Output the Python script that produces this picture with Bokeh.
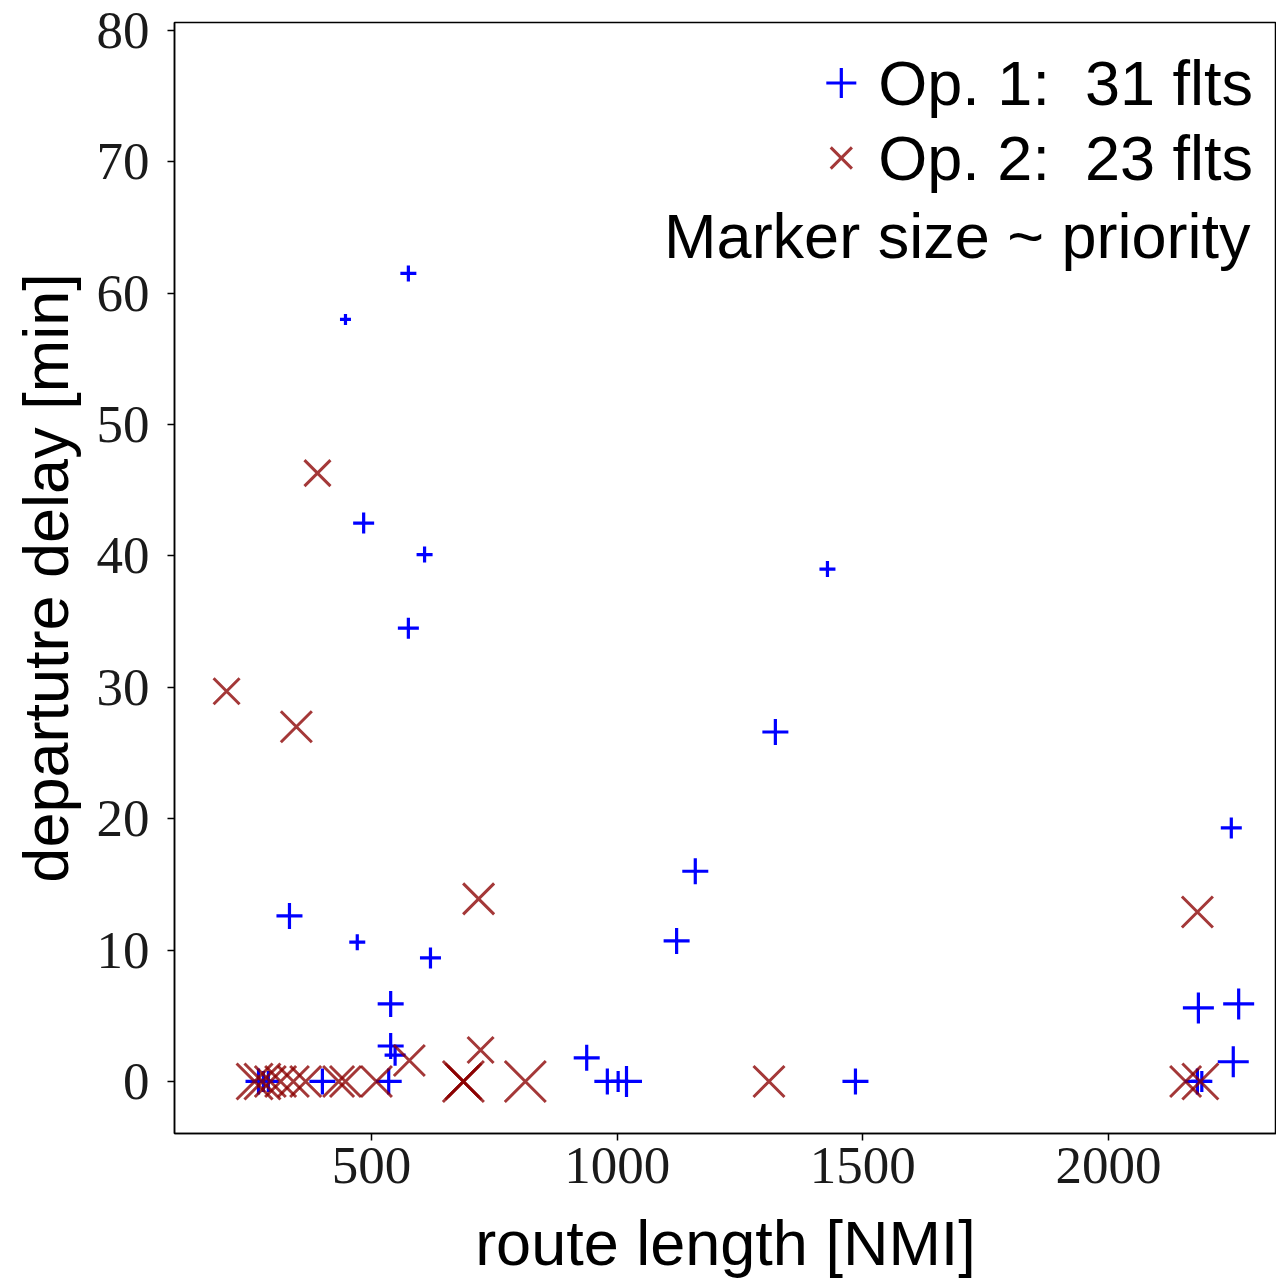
from bokeh.plotting import figure
from bokeh.models import (ColumnDataSource, FixedTicker, Legend, LegendItem, Label, Range1d)
from bokeh.embed import file_html
from bokeh.resources import INLINE

# ---- data ----
op1_route = [575, 447, 484, 608, 575, 1428, 1322, 2250, 1159, 333, 471, 620, 1121, 539,
             2183, 2265, 539, 548, 938, 2254, 1485, 980, 1002, 1019, 270, 400, 535, 2181,
             280, 290, 2190]
op1_delay = [61.5, 58.0, 42.5, 40.1, 34.5, 39.0, 26.6, 19.3, 16.0, 12.6, 10.6, 9.4, 10.7, 5.9,
             5.6, 5.9, 2.7, 2.0, 1.8, 1.5, 0, 0, 0, 0, 0, 0, 0, 0,
             0, 0, 0]
op1_priority = [2, 1, 3, 2, 3, 2, 4, 3, 4, 4, 2, 3, 4, 4,
                5, 5, 4, 3, 4, 5, 4, 4, 3, 5, 4, 4, 4, 4,
                3, 3, 3]

op2_route = [205, 390, 347, 718, 2181, 722, 577, 813, 687, 687, 687, 1309, 2157, 2187,
             262, 278, 294, 315, 341, 366, 433, 447, 510]
op2_delay = [29.7, 46.3, 27.0, 13.9, 12.9, 2.4, 1.6, 0, 0, 0, 0, 0, 0, 0,
             0, 0, 0, 0, 0, 0, 0, 0, 0]
op2_priority = [4, 4, 5, 5, 5, 4, 5, 7, 7, 6, 5, 5, 5, 6,
                6, 6, 5, 5, 5, 5, 5, 5, 5]

x_ticks = [500, 1000, 1500, 2000]
y_ticks = [0, 10, 20, 30, 40, 50, 60, 70, 80]

x_title = "route length [NMI]"
y_title = "departutre delay [min]"
legend_labels = ["Op. 1:  31 flts", "Op. 2:  23 flts"]
note_text = "Marker size ~ priority"


def prio_to_size(p, factor=1.0):
    return [(6 + 5 * v) * factor for v in p]


# the "x" marker draws its diagonals with length = size, so scale it to the same box extent
src1 = ColumnDataSource(dict(x=op1_route, y=op1_delay, s=prio_to_size(op1_priority)))
src2 = ColumnDataSource(dict(x=op2_route, y=op2_delay, s=prio_to_size(op2_priority, 2 ** 0.5)))

p = figure(width=1276, height=1280, output_backend="svg", toolbar_location=None,
           x_range=Range1d(99, 2342), y_range=Range1d(-3.96, 80.6),
           min_border_left=174, min_border_right=0, min_border_top=22, min_border_bottom=147)

r1 = p.scatter("x", "y", source=src1, marker="cross", size="s",
               line_color="#0000ff", line_width=3.2)
r2 = p.scatter("x", "y", source=src2, marker="x", size="s",
               line_color="#8b0000", line_alpha=0.78, line_width=3)

p.xgrid.visible = False
p.ygrid.visible = False
p.outline_line_color = "black"
p.outline_line_width = 1.5

tick_font = "Liberation Serif"
lab_font = "Liberation Sans"

p.xaxis.ticker = FixedTicker(ticks=x_ticks)
p.yaxis.ticker = FixedTicker(ticks=y_ticks)
for ax in (p.xaxis[0], p.yaxis[0]):
    ax.major_label_text_font = tick_font
    ax.major_label_text_font_size = "53px"
    ax.major_label_text_color = "#1a1a1a"
    ax.axis_label_text_font = lab_font
    ax.axis_label_text_font_size = "63px"
    ax.axis_label_text_font_style = "normal"
    ax.axis_label_text_color = "black"
    ax.minor_tick_line_color = None
    ax.major_tick_in = 0
    ax.major_tick_out = 7
    ax.major_tick_line_width = 1.5
    ax.axis_line_width = 1.5

p.xaxis.axis_label = x_title
p.yaxis.axis_label = y_title
p.xaxis.major_label_standoff = 7
p.xaxis.axis_label_standoff = 22
p.yaxis.major_label_standoff = 18
p.yaxis.axis_label_standoff = 13

legend = Legend(items=[LegendItem(label=legend_labels[0], renderers=[r1]),
                       LegendItem(label=legend_labels[1], renderers=[r2])],
                location="top_right", margin=23, padding=25, spacing=0,
                glyph_width=75, glyph_height=75, label_height=75, label_standoff=0,
                label_text_font=lab_font, label_text_font_size="63px",
                label_text_color="black",
                border_line_color=None, background_fill_alpha=0)
p.add_layout(legend)

note = Label(x=1076, y=898, x_units="screen", y_units="screen", text=note_text,
             text_align="right", text_baseline="alphabetic",
             text_font=lab_font, text_font_size="63px", text_color="black")
p.add_layout(note)

open("out.html", "w").write(file_html(p, INLINE))
